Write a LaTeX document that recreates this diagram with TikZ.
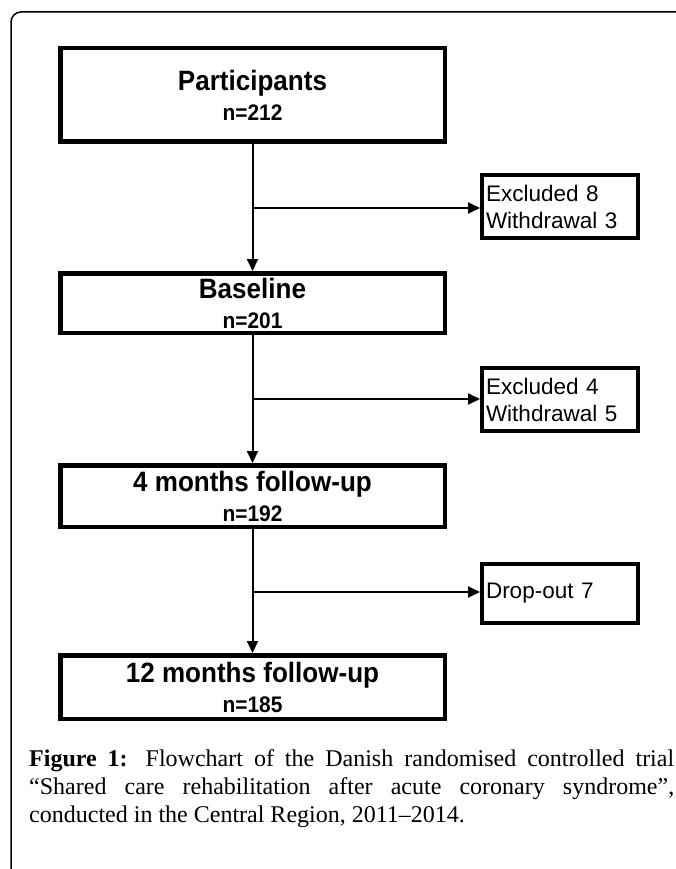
\documentclass[tikz,border=0pt]{standalone}
\usepackage{fontspec}
\setmainfont{Liberation Serif}
\newfontfamily\arialf{Liberation Sans}
\newfontfamily\arialc[FakeStretch=0.93]{Liberation Sans}
\usetikzlibrary{arrows.meta}
\begin{document}
\begin{tikzpicture}[x=1pt,y=-1pt,
  mainbox/.style={draw, line width=4.5pt, minimum width=384.5pt, inner sep=0pt, align=center,
    font=\arialc\bfseries\fontsize{28}{30}\selectfont},
  sidebox/.style={draw, line width=4pt, minimum width=156pt, text width=148pt,
    align=left, inner xsep=4pt, inner ysep=0pt, font=\arialf\fontsize{22.5}{27}\selectfont},
  conn/.style={line width=2pt},
  arr/.style={conn, -{Triangle[length=12pt,width=11pt]}}]
\useasboundingbox (0,0) rectangle (675,869);
\draw[line width=1.5pt, rounded corners=10pt] (11,880) -- (11,12) -- (690,12);
% main boxes
\node[mainbox, minimum height=93.5pt] (P) at (252.5,95)
  {Participants\\{\fontsize{22.5}{24}\selectfont n=212}};
\node[mainbox, minimum height=59.5pt] (B) at (252.5,303)
  {Baseline\\{\fontsize{22.5}{24}\selectfont n=201}};
\node[mainbox, minimum height=61.5pt] (F4) at (252.5,496)
  {4 months follow-up\\{\fontsize{22.5}{24}\selectfont n=192}};
\node[mainbox, minimum height=63.5pt] (F12) at (252.5,687)
  {12 months follow-up\\{\fontsize{22.5}{24}\selectfont n=185}};
% side boxes
\node[sidebox, minimum height=63pt] (E1) at (560,206.5) {Excluded 8\\Withdrawal 3};
\node[sidebox, minimum height=63pt] (E2) at (560,399.5) {Excluded 4\\Withdrawal 5};
\node[sidebox, minimum height=59pt] (D) at (560,593.5) {Drop-out 7};
% connectors
\draw[arr] (P) -- (B);
\draw[arr] (B) -- (F4);
\draw[arr] (F4) -- (F12);
\coordinate (b1) at (252.5,208);
\coordinate (b2) at (252.5,399);
\coordinate (b3) at (252.5,592);
\draw[arr] (b1) -- (b1 -| E1.west);
\draw[arr] (b2) -- (b2 -| E2.west);
\draw[arr] (b3) -- (b3 -| D.west);
% caption
\node[anchor=north west, text width=645pt, align=justify, inner sep=0pt,
  font=\fontsize{24}{28}\selectfont] (cap) at (29,749)
  {\textbf{Figure 1:} Flowchart of the Danish randomised controlled trial\linebreak
   “Shared care rehabilitation after acute coronary syndrome”,\linebreak
   conducted in the Central Region, 2011–2014.};
\end{tikzpicture}
\end{document}
